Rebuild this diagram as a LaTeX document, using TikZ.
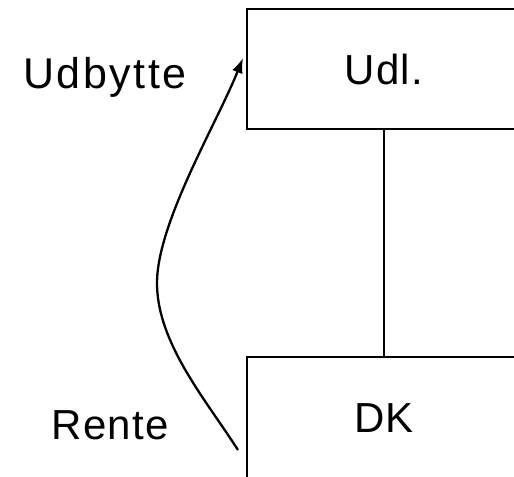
\documentclass[tikz,border=0pt]{standalone}
\usepackage{fontspec}
\setmainfont{Liberation Sans}
\usetikzlibrary{arrows.meta}
\tikzset{
  boxnode/.style={draw=black, line width=2.6bp, rectangle, minimum width=274bp, inner sep=0pt,
    font=\fontsize{42bp}{50bp}\selectfont\addfontfeatures{LetterSpace=3}},
  labeltext/.style={anchor=base, inner sep=0pt, font=\fontsize{42bp}{50bp}\selectfont},
  flow/.style={line width=2.3bp, -{Latex[length=15bp,width=11bp]}},
  link/.style={line width=2.4bp}
}
\begin{document}
\begin{tikzpicture}[x=1bp,y=-1bp]
\path[use as bounding box, clip] (0,0) rectangle (514,477);
\fill[white] (0,0) rectangle (514,477);
\node[boxnode, minimum height=120bp] (udl) at (384,69) {Udl.};
\node[boxnode, minimum height=122bp] (dk) at (384,418) {DK};
\draw[link] (udl.south) -- (dk.north);
\node[labeltext, font=\fontsize{43bp}{50bp}\selectfont\addfontfeatures{LetterSpace=6}] (udbytte) at (105,89) {Udbytte};
\node[labeltext, font=\fontsize{42bp}{50bp}\selectfont\addfontfeatures{LetterSpace=3}] (rente) at (110,439) {Rente};
\coordinate (start) at (238,450);
\coordinate (tip) at (243,58);
\coordinate (mid) at (157,283);
\draw[flow] (start) .. controls (206,400) and (157,343) .. (mid)
  .. controls (157,223) and (217,123) .. (tip);
\end{tikzpicture}
\end{document}
